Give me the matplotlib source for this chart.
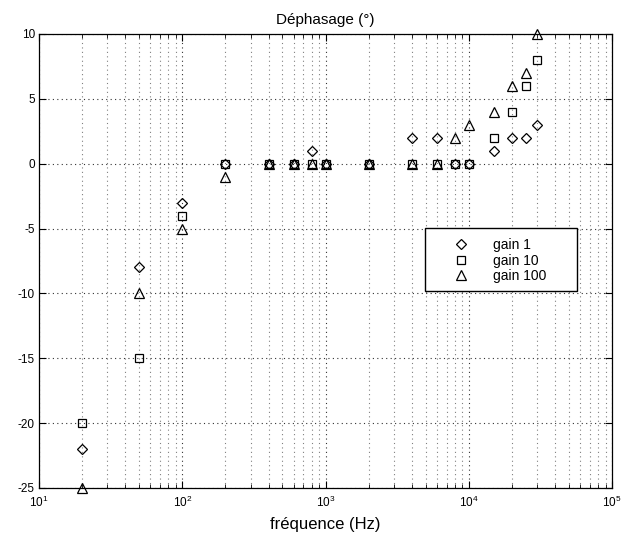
import numpy as np
import matplotlib
matplotlib.use("Agg")
import matplotlib.pyplot as plt
from matplotlib.patches import Rectangle

plt.rcParams['font.family'] = ['Liberation Sans', 'DejaVu Sans']
plt.rcParams['mathtext.fontset'] = 'custom'
plt.rcParams['mathtext.rm'] = 'Liberation Sans'
plt.rcParams['mathtext.it'] = 'Liberation Sans'
plt.rcParams['axes.unicode_minus'] = False

# fréquences de mesure (Hz)
freq = [20, 50, 100, 200, 400, 600, 800, 1000, 2000, 4000, 6000, 8000,
        10000, 15000, 20000, 25000, 30000]

# déphasage (degrés) pour chaque gain
gain1 = [-22, -8, -3, 0, 0, 0, 1, 0, 0, 2, 2, 0, 0, 1, 2, 2, 3]
gain10 = [-20, -15, -4, 0, 0, 0, 0, 0, 0, 0, 0, 0, 0, 2, 4, 6, 8]
gain100 = [-25, -10, -5, -1, 0, 0, 0, 0, 0, 0, 0, 2, 3, 4, 6, 7, 10]

labels = ['gain 1', 'gain 10', 'gain 100']
yticks = [-25, -20, -15, -10, -5, 0, 5, 10]

fig = plt.figure(figsize=(6.24, 5.36), dpi=100)
ax = fig.add_axes([0.0625, 0.0896, 0.9185, 0.847])

ax.plot(freq, gain1, linestyle='none', marker='D', markersize=5.5,
        markerfacecolor='none', markeredgecolor='k', markeredgewidth=0.9,
        label=labels[0], clip_on=False, zorder=3)
ax.plot(freq, gain10, linestyle='none', marker='s', markersize=5.5,
        markerfacecolor='none', markeredgecolor='k', markeredgewidth=0.9,
        label=labels[1], clip_on=False, zorder=3)
ax.plot(freq, gain100, linestyle='none', marker='^', markersize=7.5,
        markerfacecolor='none', markeredgecolor='k', markeredgewidth=0.9,
        label=labels[2], clip_on=False, zorder=3)

ax.set_xscale('log')
ax.set_xlim(10, 1e5)
ax.set_ylim(-25, 10)
ax.set_yticks(yticks)

ax.grid(True, which='major', linestyle=(0, (1, 3)), color='0.2', linewidth=0.8)
ax.grid(True, which='minor', axis='x', linestyle=(0, (1, 3)), color='0.5', linewidth=0.8)

ax.tick_params(which='both', direction='in', top=True, right=True, labelsize=8.5)
ax.tick_params(axis='x', which='major', pad=5)
ax.tick_params(axis='y', which='major', pad=3)
ax.tick_params(which='major', length=5)
ax.tick_params(which='minor', length=3)
for s in ax.spines.values():
    s.set_linewidth(0.9)

ax.set_title('Déphasage (°)', fontsize=11, pad=7)
ax.set_xlabel('fréquence (Hz)', fontsize=12, labelpad=5)

# cadre de la légende façon MATLAB (plus de marge à droite)
box = Rectangle((0.674, 0.434), 0.265, 0.139, transform=ax.transAxes,
                facecolor='white', edgecolor='k', linewidth=1.0, zorder=4)
ax.add_patch(box)
leg = ax.legend(loc='upper left', bbox_to_anchor=(0.669, 0.573), fontsize=10,
                frameon=False, handlelength=4.1, handletextpad=0.2,
                borderpad=0.75, labelspacing=0.1, borderaxespad=0)
leg.set_zorder(5)

fig.savefig('out.png', dpi=100)
